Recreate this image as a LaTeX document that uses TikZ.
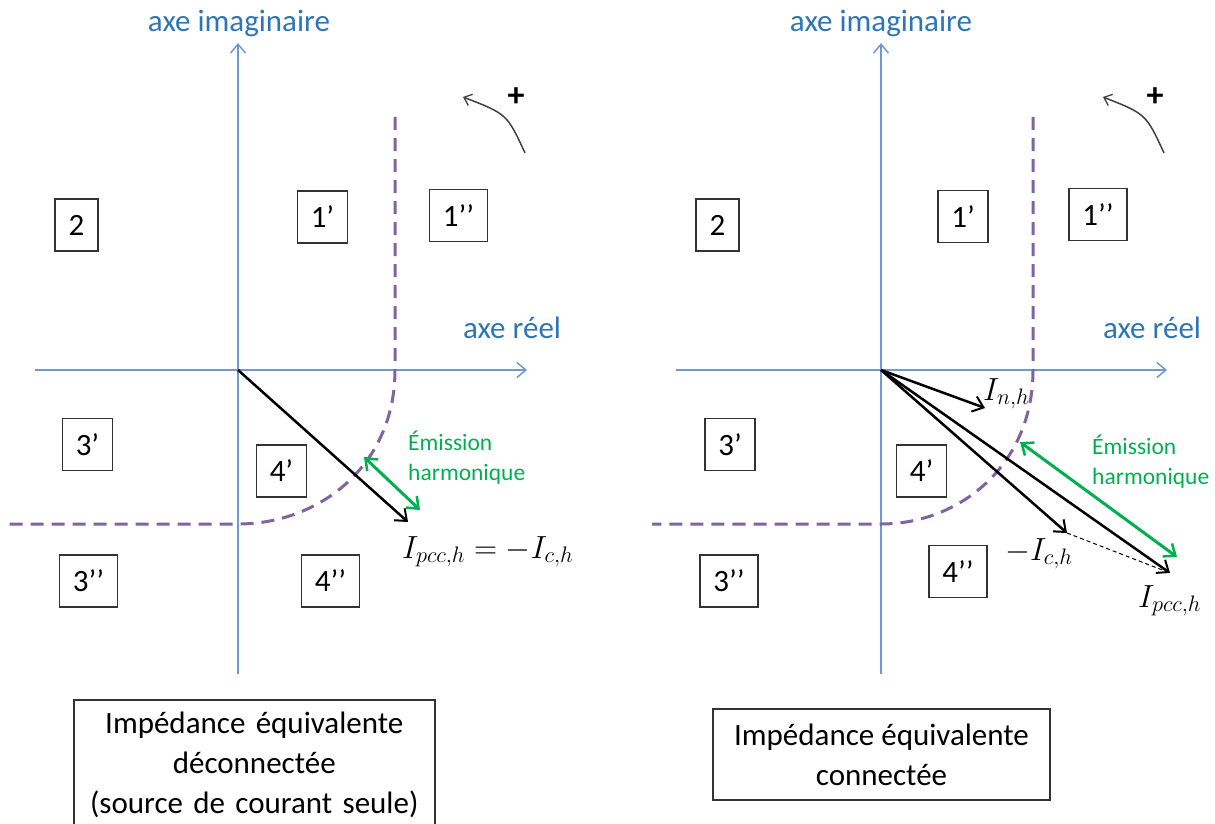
\RequirePackage{fix-cm}
\documentclass[tikz,border=0pt]{standalone}
\usepackage{fontspec}
\setmainfont{Carlito}
\usetikzlibrary{arrows.meta}
\definecolor{axisblue}{RGB}{112,153,208}
\definecolor{labelblue}{RGB}{46,117,182}
\definecolor{dpurple}{RGB}{128,100,162}
\definecolor{egreen}{RGB}{0,176,80}
\begin{document}
\begin{tikzpicture}[x=1pt,y=-1pt,
  axis/.style={draw=axisblue,line width=1.8pt,-{Straight Barb[length=9pt,width=15pt,line width=1.5pt]}},
  axlbl/.style={text=labelblue,anchor=base,inner sep=0pt,font=\fontsize{31}{38}\selectfont},
  bound/.style={draw=dpurple,line width=3pt,dash pattern=on 13pt off 8pt},
  numbox/.style={draw=black!80,line width=1.5pt,minimum height=52pt,inner xsep=13.5pt,inner ysep=0pt,font=\fontsize{31}{38}\selectfont},
  vec/.style={draw=black,line width=2.5pt,-{Straight Barb[length=10pt,width=16pt,line width=2pt]}},
  emis/.style={draw=egreen,line width=3pt,{Straight Barb[length=10pt,width=16pt,line width=2.5pt]}-{Straight Barb[length=10pt,width=16pt,line width=2.5pt]}},
  emtxt/.style={text=egreen,anchor=west,inner sep=0pt,align=left,font=\fontsize{23.5}{30}\selectfont},
  mathlbl/.style={anchor=base west,inner sep=0pt,font=\fontsize{32}{38}\selectfont},
  rot/.style={draw=black!75,line width=1.5pt,-{Straight Barb[length=7pt,width=12pt,line width=1.3pt]}},
  plussign/.style={inner sep=0pt,font=\fontsize{34}{40}\selectfont\bfseries},
  capbox/.style={draw=black!80,line width=1.5pt,align=center,font=\fontsize{31}{40}\selectfont}
]
\useasboundingbox (0,0) rectangle (1215,824);
\clip (0,0) rectangle (1215,824);

% ================= LEFT =================
\coordinate (O1) at (238,370);
\coordinate (V1b) at (238,674);
\coordinate (V1t) at (238,43);
\coordinate (H1l) at (35,370);
\coordinate (H1r) at (527,370);
\draw[axis] (V1b) -- (V1t);
\draw[axis] (H1l) -- (H1r);
\node[axlbl] (ai1) at (239,32) {axe imaginaire};
\node[axlbl] (ar1) at (512,338) {axe réel};
\coordinate (B1t) at (395,117);
\coordinate (B1m) at (395,370);
\coordinate (B1c) at (238,524);
\coordinate (B1l) at (8,524);
\draw[bound] (B1t) -- (B1m) .. controls (395,465) and (320,524) .. (B1c) -- (B1l);
\node[numbox] (l2) at (76.5,225) {2};
\node[numbox] (l1p) at (322.5,217) {1’};
\node[numbox] (l1pp) at (458.5,215.5) {1’’};
\node[numbox] (l3p) at (87.5,444.5) {3’};
\node[numbox] (l3pp) at (88.5,581) {3’’};
\node[numbox] (l4p) at (281.5,471) {4’};
\node[numbox] (l4pp) at (330.5,581) {4’’};
\coordinate (P1) at (408,522);
\draw[vec] (O1) -- (P1);
\coordinate (E1a) at (364,457);
\coordinate (E1b) at (420,510);
\draw[emis] (E1a) -- (E1b);
\node[emtxt] (et1) at (408,458) {Émission\\harmonique};
\node[mathlbl] (ml1) at (402,558) {$I_{pcc,h}=-I_{c,h}$};
\coordinate (R1a) at (525,153);
\coordinate (R1b) at (463,97);
\draw[rot] (R1a) .. controls (507,114) .. (R1b);
\node[plussign] (pl1) at (516,97) {+};
\node[capbox,anchor=north west,inner xsep=0pt,inner ysep=12pt,text width=361pt] (cap1) at (73,699)
  {Impédance équivalente\hspace*{28pt}\\déconnectée\\(source de courant seule)};

% ================= RIGHT =================
\coordinate (O2) at (881,370);
\coordinate (V2b) at (881,674);
\coordinate (V2t) at (881,43);
\coordinate (H2l) at (676,370);
\coordinate (H2r) at (1167,370);
\draw[axis] (V2b) -- (V2t);
\draw[axis] (H2l) -- (H2r);
\node[axlbl] (ai2) at (881,32) {axe imaginaire};
\node[axlbl] (ar2) at (1152,338) {axe réel};
\coordinate (B2t) at (1033,117);
\coordinate (B2m) at (1033,370);
\coordinate (B2c) at (881,524);
\coordinate (B2l) at (652,524);
\draw[bound] (B2t) -- (B2m) .. controls (1033,465) and (960,524) .. (B2c) -- (B2l);
\node[numbox] (r2) at (717.5,225) {2};
\node[numbox] (r1p) at (963,216.5) {1’};
\node[numbox] (r1pp) at (1098,214.5) {1’’};
\node[numbox] (r3p) at (730,444.5) {3’};
\node[numbox] (r3pp) at (729,581) {3’’};
\node[numbox] (r4p) at (921.5,471) {4’};
\node[numbox] (r4pp) at (958,571.5) {4’’};
\coordinate (Pn) at (985,408);
\coordinate (Pc) at (1067,533);
\coordinate (Pp) at (1170,573);
\draw[black,line width=1pt,dash pattern=on 4pt off 3pt] (Pc) -- (Pp);
\draw[vec] (O2) -- (Pn);
\draw[vec] (O2) -- (Pc);
\draw[vec] (O2) -- (Pp);
\coordinate (E2a) at (1020,442);
\coordinate (E2b) at (1177,557);
\draw[emis] (E2a) -- (E2b);
\node[emtxt] (et2) at (1092,462) {Émission\\harmonique};
\node[mathlbl] (mn) at (983,400) {$I_{n,h}$};
\node[mathlbl] (mc) at (1005,560) {$-I_{c,h}$};
\node[mathlbl] (mp) at (1138,607) {$I_{pcc,h}$};
\coordinate (R2a) at (1164,153);
\coordinate (R2b) at (1103,97);
\draw[rot] (R2a) .. controls (1146,114) .. (R2b);
\node[plussign] (pl2) at (1155,97) {+};
\node[capbox,minimum width=337pt,minimum height=91pt,inner sep=0pt] (cap2) at (881.5,754.5)
  {Impédance équivalente\\connectée};
\end{tikzpicture}
\end{document}
